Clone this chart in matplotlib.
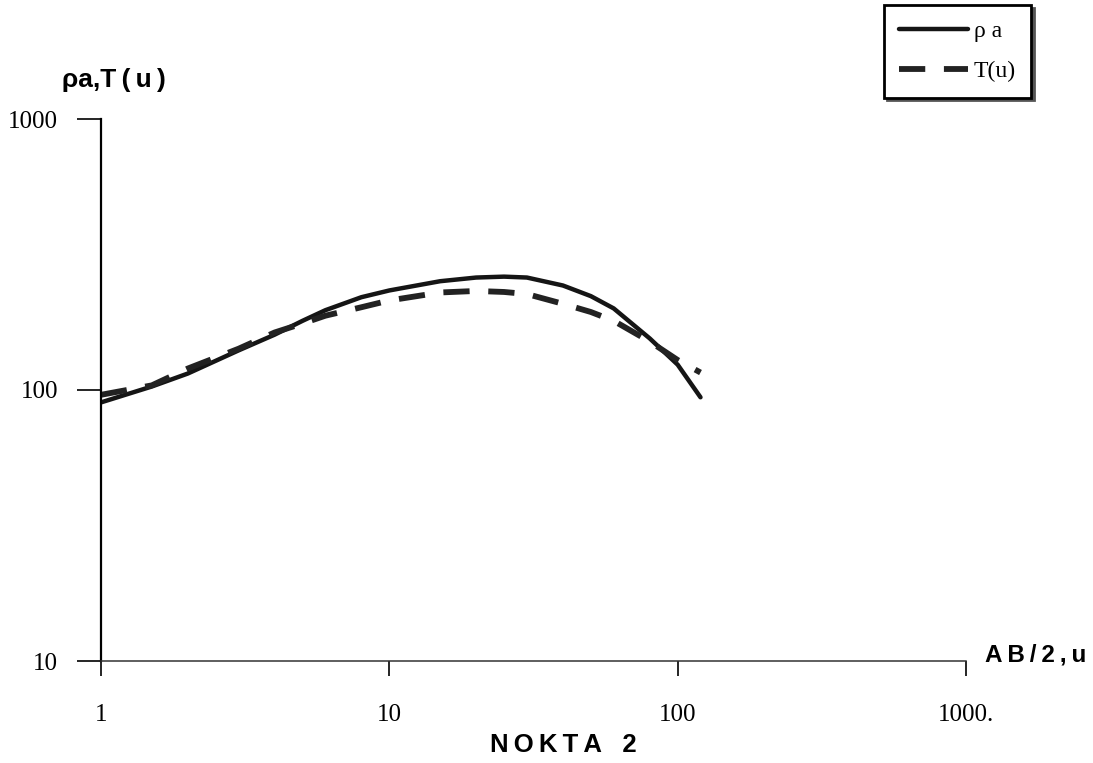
import matplotlib
matplotlib.use("Agg")
import matplotlib.pyplot as plt

# AB/2 (m)
ab2 = [1, 1.5, 2, 3, 4, 5, 6, 8, 10, 15, 20, 25, 30, 40, 50, 60, 80, 100, 120]
# apparent resistivity (solid)
rho_a = [90, 103, 115, 140, 160, 180, 197, 220, 233, 252, 260, 262, 260, 243, 222, 200, 155, 124, 94]
# T(u) (dashed)
t_u = [96, 104, 120, 142, 163, 176, 188, 202, 214, 229, 232, 230, 226, 208, 194, 180, 151, 129, 116]

x_ticks = [1, 10, 100, 1000]
x_tick_labels = ["1", "10", "100", "1000."]
y_ticks = [10, 100, 1000]
y_tick_labels = ["10", "100", "1000"]

W, H = 1093, 763
fig = plt.figure(figsize=(W / 100, H / 100), dpi=100)
fig.patch.set_facecolor("white")
ax = fig.add_axes([101 / W, 1 - 661 / H, (966 - 101) / W, (661 - 119) / H])

ax.plot(ab2, rho_a, color="#151515", lw=3.2, solid_capstyle="round", label="ρ a")
ax.plot(ab2, t_u, color="#222222", lw=4.2, dashes=(4.5, 3.2), label="T(u)")

ax.set_xscale("log")
ax.set_yscale("log")
ax.set_xlim(1, 1000)
ax.set_ylim(10, 1000)
ax.set_xticks(x_ticks)
ax.set_xticklabels(x_tick_labels)
ax.set_yticks(y_ticks)
ax.set_yticklabels(y_tick_labels)
ax.minorticks_off()

for s in ["top", "right"]:
    ax.spines[s].set_visible(False)
ax.spines["left"].set_linewidth(1.6)
ax.spines["bottom"].set_linewidth(1.1)
ax.spines["bottom"].set_color("#333333")

serif = ["Liberation Serif", "DejaVu Serif"]
ax.tick_params(axis="y", direction="out", length=17, width=1.2, pad=14, labelsize=18)
ax.tick_params(axis="x", direction="out", length=11, width=1.2, pad=20, labelsize=18)
for lab in ax.get_xticklabels() + ax.get_yticklabels():
    lab.set_fontfamily(serif)

ts = "\u2009"
bold_sans = ["Liberation Sans", "DejaVu Sans"]
fig.text(62 / W, 1 - 80 / H, "ρa," + ts.join("T(u)"), fontsize=19, fontweight="bold",
         family=bold_sans, ha="left", va="center")
fig.text(985 / W, 1 - 655 / H, ts.join("AB/2,u"), fontsize=17.5, fontweight="bold",
         family=bold_sans, ha="left", va="center")
fig.text(490 / W, 1 - 745 / H, ts.join("NOKTA") + "   " + "2", fontsize=18.5, fontweight="bold",
         family=bold_sans, ha="left", va="center")

leg = ax.legend(loc="upper right", bbox_to_anchor=(1031 / W, 1 - 5 / H),
                bbox_transform=fig.transFigure, frameon=True, fancybox=False,
                shadow={"color": "#555555", "alpha": 1.0}, edgecolor="black",
                prop={"family": serif, "size": 17}, handlelength=2.9,
                handletextpad=0.25, labelspacing=0.8, borderpad=0.65,
                borderaxespad=0)
leg.get_frame().set_linewidth(2.0)

fig.savefig("out.png", dpi=100, facecolor="white")
